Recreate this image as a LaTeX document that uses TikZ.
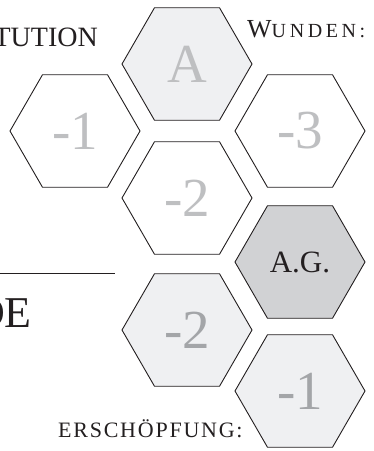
\documentclass[tikz,border=0pt]{standalone}
\usepackage{fontspec}
\setmainfont{Liberation Serif}
\usetikzlibrary{shapes.geometric}
\definecolor{hexlight}{HTML}{EFF0F2}
\definecolor{hexdark}{HTML}{D1D2D4}
\definecolor{numlight}{HTML}{BEBFC1}
\definecolor{nummid}{HTML}{A3A5A8}
\definecolor{ink}{HTML}{231F20}
\begin{document}
\begin{tikzpicture}[x=1pt,y=-1pt,
  hexbox/.style={regular polygon, regular polygon sides=6, minimum size=130pt,
    inner sep=0pt, outer sep=0pt, draw=ink, line width=0.9pt, fill=white},
  bignum/.style={font=\fontsize{55}{55}\selectfont},
  label/.style={text=ink, inner sep=0pt}]
\clip (0,0) rectangle (374,451);
% hexagons
\node[hexbox, fill=hexlight, bignum, text=numlight] (hA) at (187,64) {A};
\node[hexbox, bignum, text=numlight] (hL1) at (75,131) {-1};
\node[hexbox, bignum, text=numlight] (hR3) at (300,131) {-3};
\node[hexbox, bignum, text=numlight] (hM2) at (187,198) {-2};
\node[hexbox, fill=hexdark, text=ink, font=\fontsize{31}{31}\selectfont] (hAG) at (300,262) {A.G.};
\node[hexbox, fill=hexlight, bignum, text=nummid] (hL2) at (187,330) {-2};
\node[hexbox, fill=hexlight, bignum, text=nummid] (hB1) at (300,391) {-1};
% labels
\node[label, anchor=base east, font=\fontsize{28}{28}\selectfont] (tconst) at (98,46) {TUTION};
\node[label, anchor=base west, font=\fontsize{26}{26}\selectfont] (twund) at (247,37)
  {W\fontsize{20}{20}\selectfont\addfontfeatures{LetterSpace=18}UNDEN:};
\node[label, anchor=base east, font=\fontsize{44}{44}\selectfont] (tde) at (32,327) {DE};
\node[label, anchor=base west, font=\fontsize{22}{22}\selectfont\addfontfeatures{LetterSpace=8}] (terschoepf) at (58,437) {ERSCHÖPFUNG:};
% rule
\coordinate (ruleA) at (0,273);
\coordinate (ruleB) at (115,273);
\draw[ink, line width=0.9pt] (ruleA) -- (ruleB);
\end{tikzpicture}
\end{document}
